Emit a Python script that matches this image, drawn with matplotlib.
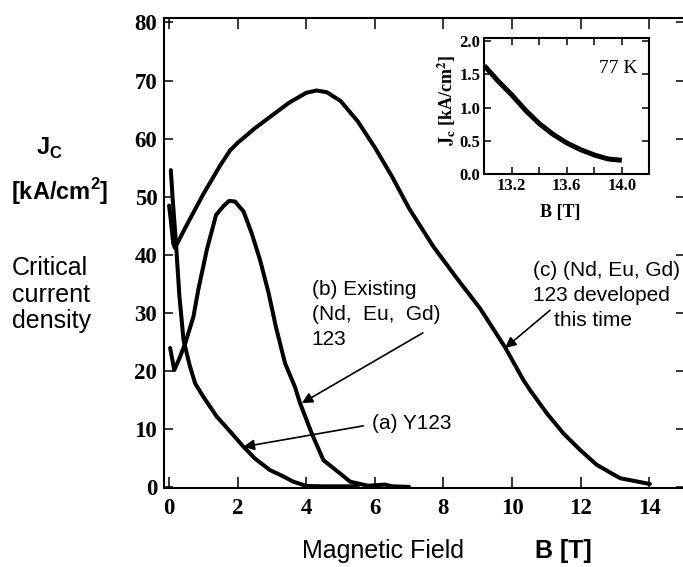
import matplotlib
matplotlib.use("Agg")
import matplotlib.pyplot as plt

plt.rcParams['mathtext.fontset'] = 'custom'
plt.rcParams['mathtext.rm'] = 'Liberation Sans'
plt.rcParams['mathtext.bf'] = 'Liberation Sans:bold'

# ---------------- data ----------------
# (a) Y123
a_x = [0.05, 0.10, 0.20, 0.30, 0.42, 0.60, 0.76, 1.00, 1.39, 1.80, 2.17, 2.50,
       2.94, 3.30, 3.62, 4.01, 4.50, 5.00, 5.50]
a_y = [54.6, 50.0, 42.0, 33.0, 25.4, 21.0, 17.9, 15.6, 12.2, 9.5, 7.0, 5.0,
       3.0, 2.0, 1.0, 0.26, 0.2, 0.2, 0.2]

# (b) Existing (Nd, Eu, Gd)123
b_x = [0.03, 0.15, 0.30, 0.47, 0.71, 0.85, 1.10, 1.37, 1.60, 1.75, 1.92, 2.17,
       2.41, 2.65, 2.90, 3.12, 3.38, 3.67, 3.82, 4.16, 4.50, 4.99, 5.28, 5.57,
       5.80, 6.30, 6.50, 7.00]
b_y = [24.0, 20.2, 22.2, 24.8, 29.4, 34.0, 40.9, 46.9, 48.5, 49.3, 49.2, 47.5,
       43.7, 39.2, 33.5, 27.5, 21.4, 17.3, 14.5, 9.3, 4.7, 2.4, 1.0, 0.6,
       0.3, 0.5, 0.2, 0.1]

# (c) (Nd, Eu, Gd)123 developed this time
c_x = [0.00, 0.05, 0.12, 0.17, 0.50, 1.00, 1.50, 1.78, 2.00, 2.50, 3.00, 3.50,
       4.00, 4.30, 4.60, 5.00, 5.50, 6.00, 6.50, 7.00, 7.70, 8.39, 9.07, 9.80,
       10.33, 10.52, 11.01, 11.50, 11.98, 12.47, 13.15, 14.02]
c_y = [48.5, 46.0, 42.0, 41.2, 45.0, 50.5, 55.5, 58.0, 59.3, 61.8, 64.0, 66.2,
       67.9, 68.3, 68.0, 66.5, 63.0, 58.5, 53.5, 48.0, 41.5, 36.0, 30.8, 24.1,
       18.5, 16.8, 12.8, 9.3, 6.5, 3.9, 1.6, 0.6]

# inset: 77 K
i_x = [13.0, 13.1, 13.2, 13.3, 13.4, 13.5, 13.6, 13.7, 13.8, 13.9, 14.0]
i_y = [1.63, 1.40, 1.19, 0.96, 0.76, 0.60, 0.47, 0.37, 0.29, 0.23, 0.21]

x_ticks = [0, 2, 4, 6, 8, 10, 12, 14]
y_ticks = [0, 10, 20, 30, 40, 50, 60, 70, 80]
ix_ticks = [13.2, 13.4, 13.6, 13.8, 14.0]
ix_labels = ['13.2', '', '13.6', '', '14.0']
iy_ticks = [0.0, 0.5, 1.0, 1.5, 2.0]
iy_labels = ['0.0', '0.5', '1.0', '1.5', '2.0']

# ---------------- figure ----------------
W, H = 683, 567
fig = plt.figure(figsize=(W / 100, H / 100), dpi=100)

def fx(px):
    return px / W

def fy(py):
    return 1 - py / H

L, R, T, B = 164.3, 684.5, 18.3, 488.3
ax = fig.add_axes([fx(L), fy(B), fx(R) - fx(L), fy(T) - fy(B)])

lw = 2.9
for xs, ys in [(a_x, a_y), (b_x, b_y), (c_x, c_y)]:
    ax.plot(xs, ys, color='black', lw=lw, solid_joinstyle='round',
            solid_capstyle='round')

ax.set_xlim(-0.14, 15.03)
ax.set_ylim(-0.14, 80.72)
ax.set_xticks(x_ticks)
ax.set_yticks(y_ticks)
serif_bold = dict(family='Liberation Serif', weight='bold', size=16.5)
ax.set_xticklabels([str(t) for t in x_ticks], fontdict=serif_bold)
ax.set_yticklabels([str(t) for t in y_ticks], fontdict=serif_bold)
ax.tick_params(axis='x', direction='in', length=8, width=1.1, top=True,
               pad=7, colors='black')
ax.tick_params(axis='y', direction='in', length=6.5, width=1.1, right=True,
               pad=5, colors='black')
for s in ax.spines.values():
    s.set_linewidth(1.5)

# annotations
sans = dict(family='Liberation Sans', size=15)
arrow = dict(arrowstyle='-|>', lw=1.2, color='black', mutation_scale=16,
             shrinkA=0, shrinkB=0)
ax.annotate('', xy=(2.17, 7.0), xytext=(5.66, 10.6), arrowprops=arrow)
ax.text(5.91, 11.05, '(a) Y123', ha='left', va='center', **sans)

ax.annotate('', xy=(3.87, 14.5), xytext=(7.4, 26.6), arrowprops=arrow)
ax.text(4.16, 34.1, '(b) Existing', ha='left', va='center', **sans)
ax.text(4.16, 29.7, '(Nd,  Eu,  Gd)', ha='left', va='center', **sans)
ax.text(4.16, 25.5, '123', ha='left', va='center', **sans)

ax.annotate('', xy=(9.8, 24.0), xytext=(11.11, 30.5), arrowprops=arrow)
ax.text(10.62, 37.3, '(c) (Nd, Eu, Gd)', ha='left', va='center', **sans)
ax.text(10.62, 33.1, '123 developed', ha='left', va='center', **sans)
ax.text(11.22, 28.8, 'this time', ha='left', va='center', **sans)

# left / bottom labels
fig.text(fx(49), fy(148), r'$\mathbf{J}_{\mathbf{C}}$', ha='center',
         va='center', size=17)
fig.text(fx(59.5), fy(192), '[kA/cm$^{\\mathbf{2}}$]', ha='center', va='center',
         family='Liberation Sans', weight='bold', size=17)
for txt, py in [('Critical', 268), ('current', 295), ('density', 321)]:
    fig.text(fx(12), fy(py), txt, ha='left', va='center',
             family='Liberation Sans', size=18)
fig.text(fx(383), fy(551), 'Magnetic Field', ha='center', va='center',
         family='Liberation Sans', size=18)
fig.text(fx(563), fy(551), 'B [T]', ha='center', va='center',
         family='Liberation Sans', weight='bold', size=18)

# ---------------- inset ----------------
iL, iR, iT, iB = 484.3, 649.3, 38.3, 174.3
ia = fig.add_axes([fx(iL), fy(iB), fx(iR) - fx(iL), fy(iT) - fy(iB)])
ia.plot(i_x, i_y, color='black', lw=3.6, solid_capstyle='butt')
ia.set_xlim(13.0, 14.2)
ia.set_ylim(0.0, 2.04)
small_bold = dict(family='Liberation Serif', weight='bold', size=12)
ia.set_xticks(ix_ticks)
ia.set_xticklabels(ix_labels, fontdict=small_bold)
ia.set_yticks(iy_ticks)
ia.set_yticklabels(iy_labels, fontdict=small_bold)
ia.tick_params(direction='in', length=5, width=1.1, top=True, right=True,
               pad=3)
for s in ia.spines.values():
    s.set_linewidth(1.5)
ia.text(0.93, 0.78, '77 K', transform=ia.transAxes, ha='right', va='center',
        family='Liberation Serif', size=14)
fig.text(fx(560), fy(212), 'B [T]', ha='center', va='center',
         family='Liberation Serif', weight='bold', size=13)
fig.text(fx(447), fy(100), r'$\mathbf{J_c}$ [kA/cm$^{\mathbf{2}}$]',
         rotation=90, ha='center', va='center', family='Liberation Serif',
         weight='bold', size=13, math_fontfamily='stix')

fig.savefig('out.png', dpi=100)
